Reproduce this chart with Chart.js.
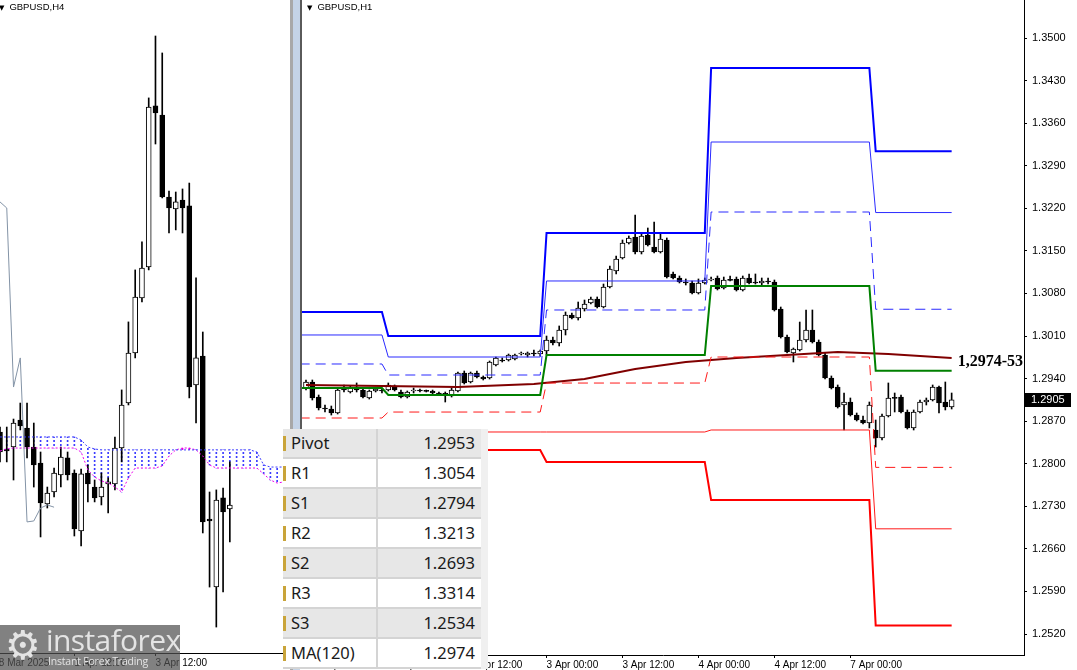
<!DOCTYPE html>
<html lang="en">
<head>
<meta charset="UTF-8">
<title>GBPUSD H4 / H1</title>
<script src="https://cdn.jsdelivr.net/npm/chart.js@4.4.0/dist/chart.umd.min.js"></script>
<style>
    html, body { margin: 0; padding: 0; background: #fff; }
    body { position: relative; width: 1077px; height: 670px; overflow: hidden; font-family: "Liberation Sans", Arial, sans-serif; }
    canvas { position: absolute; top: 0; }
    #h4Chart { left: -8px; }
    #h1Chart { left: 302px; }
    .title { position: absolute; top: 1px; font-size: 9.5px; color: #000; white-space: nowrap; }
    .title span { font-family: "DejaVu Sans", sans-serif; font-size: 7px; margin-right: 5px; }
    #splitA { position: absolute; left: 290px; top: 0; width: 3px; height: 670px; background: #a8a8a8; }
    #splitB { position: absolute; left: 293px; top: 0; width: 7px; height: 670px; background: #c4d3e6; }
    #frame { position: absolute; left: 300px; top: 0; width: 2px; height: 656px; background: #5a5a5a; }
    #levels { position: absolute; left: 283px; top: 429px; width: 198px; font-family: "Noto Sans", sans-serif; font-size: 16.5px; color: #1a1a1a; border-right: 7px solid #f0f0f0; }
    #levels .row { position: relative; height: 28px; border-bottom: 2px solid #d4d4d4; }
    #levels .row:nth-child(odd) { background: #e7e7e7; }
    #levels .row:nth-child(even) { background: #fff; }
    #levels .mark { position: absolute; left: 0; top: 7px; width: 3px; height: 15px; background: #c9a43a; }
    #levels .name { position: absolute; left: 8px; top: 2px; }
    #levels .val { position: absolute; right: 6px; top: 2px; }
    #levels .sep { position: absolute; left: 93px; top: 0; width: 2px; height: 28px; background: #d4d4d4; }
    #logo { position: absolute; left: 0; top: 625px; width: 180px; height: 45px; background: rgba(80, 80, 80, 0.72); color: #e4e4e4; }
    #logo .gear { position: absolute; left: 5px; top: -3px; font-family: "DejaVu Sans", sans-serif; font-size: 40px; }
    #logo .brand { position: absolute; left: 46px; top: -6px; font-family: "Open Sans", sans-serif; font-size: 30px; letter-spacing: -0.6px; }
    #logo .tag { position: absolute; left: 48px; top: 29px; font-family: "Open Sans", sans-serif; font-size: 10.5px; letter-spacing: -0.2px; }
</style>
</head>
<body>
<canvas id="h4Chart" width="298" height="670"></canvas>
<canvas id="h1Chart" width="775" height="670"></canvas>
<div id="splitA"></div><div id="splitB"></div><div id="frame"></div>
<div class="title" style="left:-1px"><span>&#9660;</span>GBPUSD,H4</div>
<div class="title" style="left:307px"><span>&#9660;</span>GBPUSD,H1</div>
<div id="levels"></div>
<div id="logo"><span class="gear">&#9881;</span><span class="brand">instaforex</span><span class="tag">Instant Forex Trading</span></div>

<script>
// ---------- H1 panel (right) ----------
const h1Open = [
    1.29245, 1.29344, 1.29097, 1.28916, 1.28900, 1.28834, 1.29229, 1.29180, 1.29262, 1.29212,
    1.29081, 1.29196, 1.29212, 1.29212, 1.29262, 1.29180, 1.29097, 1.29196, 1.29212, 1.29196,
    1.29196, 1.29163, 1.29147, 1.29114, 1.29196, 1.29492, 1.29344, 1.29492, 1.29426, 1.29410,
    1.29623, 1.29706, 1.29706, 1.29722, 1.29804, 1.29788, 1.29821, 1.29804, 1.29854, 1.30035,
    1.29985, 1.30199, 1.30446, 1.30396, 1.30544, 1.30643, 1.30709, 1.30577, 1.30906, 1.31169,
    1.31383, 1.31629, 1.31728, 1.31481, 1.31761, 1.31564, 1.31481, 1.31679, 1.31120, 1.31054,
    1.30988, 1.30972, 1.30807, 1.30972, 1.31021, 1.31054, 1.30890, 1.31021, 1.31038, 1.30857,
    1.31054, 1.30988, 1.30972, 1.31005, 1.30988, 1.30544, 1.30084, 1.29821, 1.29870, 1.30035,
    1.30199, 1.30002, 1.29788, 1.29410, 1.29262, 1.28966, 1.29015, 1.28801, 1.28719, 1.28670,
    1.28555, 1.28423, 1.28785, 1.29081, 1.29097, 1.28851, 1.28588, 1.28851, 1.29015, 1.29048,
    1.29262, 1.29015, 1.28933
];
const h1High = [
    1.29377, 1.29377, 1.29130, 1.28966, 1.28949, 1.29245, 1.29295, 1.29278, 1.29328, 1.29245,
    1.29212, 1.29245, 1.29229, 1.29328, 1.29295, 1.29212, 1.29196, 1.29245, 1.29229, 1.29212,
    1.29212, 1.29180, 1.29180, 1.29245, 1.29508, 1.29525, 1.29508, 1.29525, 1.29443, 1.29689,
    1.29755, 1.29739, 1.29804, 1.29804, 1.29837, 1.29837, 1.29870, 1.29870, 1.30100, 1.30084,
    1.30265, 1.30495, 1.30478, 1.30659, 1.30692, 1.30742, 1.30742, 1.30955, 1.31251, 1.31416,
    1.31679, 1.31745, 1.32090, 1.31794, 1.31876, 1.31975, 1.31794, 1.31712, 1.31153, 1.31087,
    1.31038, 1.31005, 1.31038, 1.31054, 1.31070, 1.31087, 1.31070, 1.31087, 1.31070, 1.31087,
    1.31120, 1.31120, 1.31054, 1.31054, 1.31021, 1.30577, 1.30117, 1.29903, 1.30330, 1.30528,
    1.30528, 1.30035, 1.29821, 1.29443, 1.29295, 1.29163, 1.29081, 1.28834, 1.28785, 1.29015,
    1.28719, 1.28818, 1.29328, 1.29163, 1.29130, 1.28884, 1.28884, 1.29048, 1.29081, 1.29295,
    1.29278, 1.29344, 1.29163
];
const h1Low = [
    1.29212, 1.29048, 1.28884, 1.28851, 1.28801, 1.28818, 1.29180, 1.29163, 1.29180, 1.29081,
    1.29064, 1.29180, 1.29163, 1.29196, 1.29196, 1.29081, 1.29081, 1.29163, 1.29180, 1.29180,
    1.29147, 1.29130, 1.29015, 1.29097, 1.29180, 1.29311, 1.29328, 1.29410, 1.29377, 1.29393,
    1.29607, 1.29673, 1.29689, 1.29706, 1.29788, 1.29755, 1.29771, 1.29771, 1.29788, 1.29952,
    1.29936, 1.30117, 1.30380, 1.30363, 1.30511, 1.30626, 1.30561, 1.30561, 1.30890, 1.31120,
    1.31366, 1.31613, 1.31449, 1.31449, 1.31580, 1.31465, 1.31465, 1.31054, 1.31038, 1.30972,
    1.30939, 1.30791, 1.30791, 1.30955, 1.31005, 1.30857, 1.30873, 1.31005, 1.30840, 1.30840,
    1.30955, 1.30955, 1.30939, 1.30955, 1.30511, 1.30067, 1.29821, 1.29673, 1.29854, 1.30002,
    1.29985, 1.29771, 1.29393, 1.29229, 1.28916, 1.28555, 1.28785, 1.28703, 1.28653, 1.28588,
    1.28275, 1.28390, 1.28769, 1.28851, 1.28834, 1.28571, 1.28555, 1.28834, 1.28966, 1.29032,
    1.28834, 1.28884, 1.28900
];
const h1Close = [
    1.29344, 1.29081, 1.28916, 1.28900, 1.28834, 1.29212, 1.29212, 1.29262, 1.29212, 1.29097,
    1.29196, 1.29229, 1.29196, 1.29295, 1.29212, 1.29097, 1.29180, 1.29212, 1.29196, 1.29190,
    1.29163, 1.29147, 1.29140, 1.29212, 1.29492, 1.29328, 1.29492, 1.29426, 1.29393, 1.29673,
    1.29739, 1.29689, 1.29788, 1.29788, 1.29821, 1.29821, 1.29804, 1.29854, 1.30035, 1.29985,
    1.30199, 1.30446, 1.30396, 1.30561, 1.30626, 1.30709, 1.30577, 1.30906, 1.31202, 1.31366,
    1.31629, 1.31712, 1.31481, 1.31745, 1.31597, 1.31481, 1.31695, 1.31070, 1.31054, 1.30988,
    1.30972, 1.30807, 1.30972, 1.31021, 1.31038, 1.30873, 1.31021, 1.31015, 1.30857, 1.31054,
    1.30972, 1.30972, 1.31005, 1.30988, 1.30528, 1.30084, 1.29837, 1.29887, 1.30035, 1.30199,
    1.30002, 1.29788, 1.29410, 1.29245, 1.28933, 1.29015, 1.28801, 1.28719, 1.28670, 1.28966,
    1.28423, 1.28785, 1.29081, 1.29075, 1.28851, 1.28588, 1.28851, 1.29015, 1.29048, 1.29262,
    1.28999, 1.28933, 1.29050
];
const h1TickIdx = [2, 14, 26, 38, 50, 62, 74, 86];
const h1TickLabels = ['1 Apr 12:00', '2 Apr 00:00', '2 Apr 12:00', '3 Apr 00:00', '3 Apr 12:00', '4 Apr 00:00', '4 Apr 12:00', '7 Apr 00:00'];
const priceTicks = [1.2520, 1.2590, 1.2660, 1.2730, 1.2800, 1.2870, 1.2940, 1.3010, 1.3080, 1.3150, 1.3220, 1.3290, 1.3360, 1.3430, 1.3500];

// daily pivot levels, one value per day; bars where each day's level starts/ends
const dayStart = [-1, 13, 38, 64, 90];
const dayEnd = [12, 37, 63, 89, 102];
const pivotP = [1.29245, 1.29130, 1.29788, 1.30922, 1.2953];
const pivotR1 = [1.29640, 1.29459, 1.30528, 1.32139, 1.3054];
const pivotS1 = [1.28752, 1.28850, 1.29327, 1.29755, 1.2794];
const pivotR2 = [1.30117, 1.29755, 1.31005, 1.33290, 1.3213];
const pivotS2 = [1.28357, 1.28522, 1.28522, 1.28555, 1.2693];
const pivotR3 = [1.30495, 1.30100, 1.31794, 1.34507, 1.3314];
const pivotS3 = [1.27864, 1.28226, 1.28029, 1.27404, 1.2534];

// MA(120) read at a few bars
const maIdx = [0, 12, 24, 36, 44, 52, 60, 68, 76, 84, 92, 102];
const maVal = [1.29295, 1.29278, 1.29262, 1.29311, 1.29393, 1.29558, 1.29673, 1.29739, 1.29788, 1.29837, 1.29804, 1.2974];

// ---------- H4 panel (left) ----------
const h4Open = [1.2960, 1.29494, 1.29506, 1.29675, 1.29625, 1.29506, 1.29406, 1.2915, 1.29225, 1.29331, 1.29438, 1.29344, 1.28981, 1.29344, 1.29256, 1.29194, 1.29275, 1.29275, 1.2950, 1.29781, 1.30094, 1.30438, 1.30631, 1.31638, 1.31581, 1.31069, 1.30994, 1.3105, 1.31013, 1.29894, 1.30075, 1.29056, 1.28631, 1.29188, 1.29119];
const h4High = [1.29631, 1.29631, 1.29681, 1.29781, 1.29781, 1.29656, 1.29475, 1.29256, 1.29375, 1.29506, 1.29475, 1.29363, 1.29369, 1.29394, 1.2930, 1.29344, 1.29313, 1.29569, 1.29863, 1.30288, 1.30613, 1.30788, 1.31688, 1.32075, 1.31969, 1.31106, 1.311, 1.31119, 1.31156, 1.30563, 1.30225, 1.29225, 1.29238, 1.2925, 1.29413];
const h4Low = [1.29413, 1.29413, 1.2930, 1.29613, 1.29438, 1.29256, 1.28944, 1.29125, 1.29194, 1.29256, 1.2930, 1.2895, 1.28888, 1.29163, 1.29163, 1.29144, 1.29094, 1.29238, 1.29413, 1.29769, 1.30063, 1.30413, 1.30613, 1.3140, 1.31063, 1.30844, 1.30863, 1.30844, 1.29813, 1.29656, 1.28969, 1.28631, 1.28381, 1.286, 1.28913];
const h4Close = [1.29475, 1.29481, 1.29656, 1.29638, 1.29506, 1.29394, 1.29156, 1.29219, 1.29344, 1.29444, 1.29331, 1.28994, 1.29338, 1.29275, 1.29188, 1.29256, 1.29288, 1.2950, 1.29769, 1.30094, 1.30444, 1.30625, 1.31631, 1.31594, 1.31069, 1.3100, 1.31038, 1.3100, 1.29881, 1.30063, 1.29038, 1.29044, 1.29175, 1.291, 1.29144];
// lagging span, starting one bar left of the first candle
const h4Lag = [1.3100, 1.31038, 1.3100, 1.29881, 1.30063, 1.29038, 1.29044, 1.29125, 1.29144, 1.2913];
// cloud spans, one per bar (runs past the last candle)
const h4SpanA = [1.29569, 1.29569, 1.29569, 1.29569, 1.29569, 1.29569, 1.29569, 1.29569, 1.29569, 1.29569, 1.29569, 1.29569,
    1.2955, 1.29506, 1.29494,
    1.29488, 1.29488, 1.29488, 1.29488, 1.29488, 1.29488, 1.29488, 1.29488, 1.29488, 1.29488, 1.29488, 1.29488,
    1.29488, 1.29488, 1.29488, 1.29488, 1.29488, 1.29488, 1.29488, 1.29488, 1.29488, 1.29488, 1.29488,
    1.29475, 1.29394, 1.29381, 1.29381, 1.29381];
const h4SpanB = [1.29481, 1.29494, 1.2950, 1.2950, 1.2950, 1.2950, 1.2950, 1.2950, 1.2950, 1.2950, 1.2950, 1.2950,
    1.29475, 1.29363, 1.29319, 1.29294, 1.29281, 1.29256, 1.29225, 1.29313,
    1.29375, 1.29375, 1.29375, 1.29375,
    1.29388, 1.2945, 1.29488, 1.2950, 1.2950, 1.29488, 1.2945, 1.29394,
    1.29375, 1.29375, 1.29375, 1.29375, 1.29375, 1.29375, 1.29375,
    1.29338, 1.2930, 1.29281, 1.29288];
const h4TickIdx = [-1, 11, 23];
const h4TickLabels = ['28 Mar 2025', '1 Apr 12:00', '3 Apr 12:00'];

// ---------- helpers ----------
function candleSets(open, high, low, close, bodyWidth) {
    return [
        {
            type: 'bar', order: 20, grouped: false, barThickness: 1,
            data: high.map((h, i) => ({ x: i, y: [low[i], h] })),
            backgroundColor: '#000', borderWidth: 0
        },
        {
            type: 'bar', order: 19, grouped: false, barThickness: bodyWidth, minBarLength: 1,
            data: open.map((o, i) => ({ x: i, y: [o, close[i]] })),
            backgroundColor: ctx => close[ctx.dataIndex] >= open[ctx.dataIndex] ? '#fff' : '#000',
            borderColor: '#000', borderWidth: 1, borderSkipped: false
        }
    ];
}

function lineSet(data, color, width, dash, order) {
    return { type: 'line', data, borderColor: color, borderWidth: width, borderDash: dash || [],
             pointRadius: 0, tension: 0, fill: false, order: order || 1 };
}

function levelPoints(vals) {
    const pts = [];
    vals.forEach((v, d) => { pts.push({ x: dayStart[d], y: v }, { x: dayEnd[d], y: v }); });
    return pts;
}

function hatch(color) {
    const c = document.createElement('canvas');
    c.width = 1; c.height = 4;
    const g = c.getContext('2d');
    g.fillStyle = color;
    g.fillRect(0, 0, 1, 2);
    return g.createPattern(c, 'repeat');
}

function timeAxis(min, max, idx, labels, height) {
    return {
        type: 'linear', min, max, offset: false,
        grid: { display: true, drawOnChartArea: false, drawTicks: true, tickLength: 3, color: '#000', offset: false },
        border: { display: true, color: '#000', width: 1 },
        ticks: { align: 'start', autoSkip: false, maxRotation: 0, padding: 1, color: '#000',
                 font: { family: 'Liberation Sans', size: 10 },
                 callback: v => labels[idx.indexOf(v)] },
        afterBuildTicks: s => { s.ticks = idx.map(v => ({ value: v })); },
        afterFit: s => { s.height = height; s.paddingLeft = 0; s.paddingRight = 0; }
    };
}

const common = {
    responsive: false, animation: false, events: [],
    layout: { padding: 0 },
    plugins: { legend: { display: false }, tooltip: { enabled: false } }
};

// ---------- H4 chart ----------
const blueHatch = hatch('#3c3cff');
const pinkHatch = hatch('#e000e0');
new Chart(document.getElementById('h4Chart'), {
    type: 'bar',
    data: {
        datasets: [
            ...candleSets(h4Open, h4High, h4Low, h4Close, 5),
            {
                type: 'bar', order: 30, grouped: false, barThickness: 1,
                data: h4SpanA.map((a, j) => ({ x: j, y: [h4SpanB[j], a] })),
                backgroundColor: ctx => h4SpanA[ctx.dataIndex] >= h4SpanB[ctx.dataIndex] ? blueHatch : pinkHatch
            },
            lineSet(h4SpanA.map((v, j) => ({ x: j, y: v })), '#3c3cff', 1, [2, 2], 3),
            lineSet(h4SpanB.map((v, j) => ({ x: j, y: v })), '#ee00ee', 1, [2, 2], 3),
            lineSet(h4Lag.map((v, k) => ({ x: k - 1, y: v })), '#8393a6', 1, [], 2)
        ]
    },
    options: {
        ...common,
        scales: {
            x: timeAxis(-1.183, 42.9, h4TickIdx, h4TickLabels, 17),
            y: { type: 'linear', display: false, min: 1.2821875, max: 1.3230 }
        }
    }
});

// ---------- H1 chart ----------
const h1Labels = {
    id: 'h1Labels',
    afterDraw(chart) {
        const { ctx, scales: { x, y } } = chart;
        const last = h1Close[h1Close.length - 1];
        const py = Math.round(y.getPixelForValue(last));
        ctx.save();
        ctx.fillStyle = '#000';
        ctx.fillRect(x.right + 1, py - 7, 46, 14);
        ctx.fillStyle = '#fff';
        ctx.font = '11px "Liberation Sans"';
        ctx.textBaseline = 'middle';
        ctx.fillText(last.toFixed(4), x.right + 7, py);
        const maLast = maVal[maVal.length - 1];
        const pLast = pivotP[pivotP.length - 1];
        const text = maLast.toFixed(4).replace('.', ',') + '-' + pLast.toFixed(4).slice(-2);
        ctx.fillStyle = '#000';
        ctx.font = 'bold 16px "Liberation Serif"';
        ctx.fillText(text, x.getPixelForValue(h1Close.length - 1) + 6, y.getPixelForValue(maLast) + 4);
        ctx.restore();
    }
};

new Chart(document.getElementById('h1Chart'), {
    type: 'bar',
    data: {
        datasets: [
            ...candleSets(h1Open, h1High, h1Low, h1Close, 5),
            lineSet(levelPoints(pivotR3), '#0000ff', 2),
            lineSet(levelPoints(pivotR2), '#2a2aff', 1),
            lineSet(levelPoints(pivotR1), '#2a2aff', 1, [10, 6]),
            lineSet(levelPoints(pivotP), '#008000', 2),
            lineSet(levelPoints(pivotS1), '#ff1a1a', 1, [10, 6]),
            lineSet(levelPoints(pivotS2), '#ff1a1a', 1),
            lineSet(levelPoints(pivotS3), '#ff0000', 2),
            lineSet(maIdx.map((v, k) => ({ x: v, y: maVal[k] })), '#800000', 2, [], 0)
        ]
    },
    options: {
        ...common,
        scales: {
            x: timeAxis(-0.632, 113.43, h1TickIdx, h1TickLabels, 15),
            y: {
                type: 'linear', position: 'right', min: 1.248553, max: 1.356248,
                grid: { display: true, drawOnChartArea: false, drawTicks: true, tickLength: 3, color: '#000' },
                border: { display: true, color: '#000', width: 1 },
                ticks: { padding: 5, color: '#000', font: { family: 'Liberation Sans', size: 11 },
                         callback: v => v.toFixed(4) },
                afterBuildTicks: s => { s.ticks = priceTicks.map(v => ({ value: v })); },
                afterFit: s => { s.width = 53; s.paddingTop = 0; s.paddingBottom = 0; }
            }
        }
    },
    plugins: [h1Labels]
});

// ---------- levels table ----------
const levelNames = ['Pivot', 'R1', 'S1', 'R2', 'S2', 'R3', 'S3', 'MA(120)'];
const levelVals = [pivotP, pivotR1, pivotS1, pivotR2, pivotS2, pivotR3, pivotS3]
    .map(a => a[a.length - 1]).concat(maVal[maVal.length - 1]);
const box = document.getElementById('levels');
levelNames.forEach((n, k) => {
    const row = document.createElement('div');
    row.className = 'row';
    row.innerHTML = '<span class="mark"></span><span class="name">' + n + '</span><span class="sep"></span><span class="val">' + levelVals[k].toFixed(4) + '</span>';
    box.appendChild(row);
});
</script>
</body>
</html>
